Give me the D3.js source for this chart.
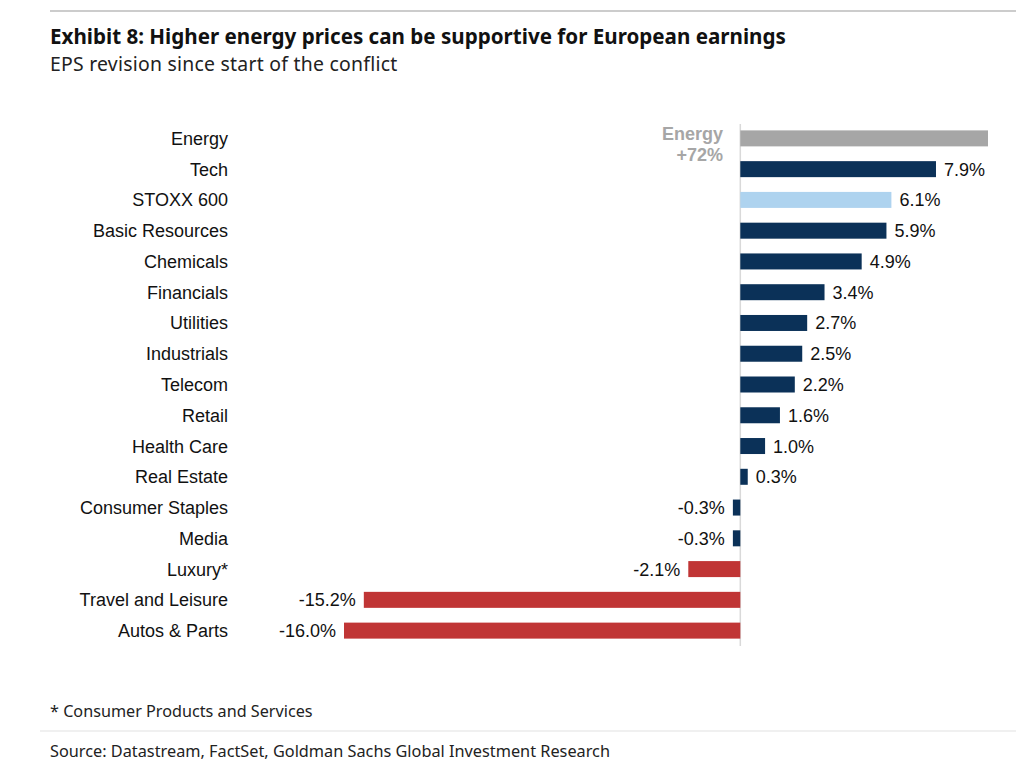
<!DOCTYPE html>
<html><head><meta charset="utf-8">
<script src="https://cdn.jsdelivr.net/npm/d3@7"></script>
<style>
body{margin:0;background:#fff;}
svg{display:block;}
</style></head>
<body>
<svg id="chart" width="1016" height="772"></svg>
<script>
const categories = ["Energy","Tech","STOXX 600","Basic Resources","Chemicals","Financials","Utilities","Industrials","Telecom","Retail","Health Care","Real Estate","Consumer Staples","Media","Luxury*","Travel and Leisure","Autos & Parts"];
const values = [72,7.9,6.1,5.9,4.9,3.4,2.7,2.5,2.2,1.6,1.0,0.3,-0.3,-0.3,-2.1,-15.2,-16.0];
const barColors = ["#a6a6a6","#0b3158","#aed3ef","#0b3158","#0b3158","#0b3158","#0b3158","#0b3158","#0b3158","#0b3158","#0b3158","#0b3158","#0b3158","#0b3158","#c03535","#c03535","#c03535"];
const xDomain = [-16, 10];
const energyNote = ["Energy","+72%"];
const title = "Exhibit 8: Higher energy prices can be supportive for European earnings";
const subtitle = "EPS revision since start of the conflict";
const footnote = "* Consumer Products and Services";
const source = "Source: Datastream, FactSet, Goldman Sachs Global Investment Research";

const svg = d3.select("#chart");
const sans = "'Liberation Sans', Arial, sans-serif";
const gs = "'Noto Sans', 'Open Sans', sans-serif";

svg.append("line").attr("x1",50).attr("x2",1016).attr("y1",11).attr("y2",11).attr("stroke","#9a9a9a").attr("stroke-width",1.2);
svg.append("text").attr("x",50).attr("y",44).text(title)
  .attr("font-family",gs).attr("font-weight","bold").attr("font-size",20.6).attr("fill","#111");
svg.append("text").attr("x",50).attr("y",70.5).text(subtitle)
  .attr("font-family",gs).attr("font-size",19.4).attr("letter-spacing",0.25).attr("fill","#222");

const x = d3.scaleLinear().domain(xDomain).range([344, 988]).clamp(true);
const y = d3.scaleBand().domain(categories).range([123, 646]).paddingInner(0.48).paddingOuter(0.24);

const data = categories.map((c,i)=>({c, v:values[i], col:barColors[i]}));

svg.append("line").attr("x1",x(0)).attr("x2",x(0)).attr("y1",124).attr("y2",646)
  .attr("stroke","#d9d9d9").attr("stroke-width",1.5);

svg.selectAll("rect.bar").data(data).join("rect").attr("class","bar")
  .attr("x",d=>x(Math.min(0,d.v))).attr("width",d=>Math.abs(x(d.v)-x(0)))
  .attr("y",d=>y(d.c)).attr("height",y.bandwidth()).attr("fill",d=>d.col);

svg.selectAll("text.cat").data(data).join("text").attr("class","cat")
  .attr("x",228).attr("y",d=>y(d.c)+y.bandwidth()/2).attr("dy","0.36em")
  .attr("text-anchor","end").attr("font-family",sans).attr("font-size",18).attr("fill","#111")
  .text(d=>d.c);

const fmt = v => d3.format(".1f")(v).replace("\u2212","-") + "%";
svg.selectAll("text.val").data(data.filter(d=>d.c!=="Energy")).join("text").attr("class","val")
  .attr("x",d=>d.v>=0 ? x(d.v)+8 : x(d.v)-8)
  .attr("y",d=>y(d.c)+y.bandwidth()/2).attr("dy","0.36em")
  .attr("text-anchor",d=>d.v>=0?"start":"end")
  .attr("font-family",sans).attr("font-size",18).attr("fill","#111")
  .text(d=>fmt(d.v));

const ey = y("Energy")+y.bandwidth()/2;
svg.selectAll("text.enote").data(energyNote).join("text").attr("class","enote")
  .attr("x",723).attr("y",(d,i)=>ey+i*21).attr("dy","0.1em")
  .attr("text-anchor","end").attr("font-family",sans).attr("font-weight","bold")
  .attr("font-size",18).attr("fill","#a6a6a6").text(d=>d);

svg.append("text").attr("x",50).attr("y",717).text(footnote)
  .attr("font-family",gs).attr("font-size",16.2).attr("fill","#222");
svg.append("line").attr("x1",40).attr("x2",1016).attr("y1",731).attr("y2",731).attr("stroke","#e2e2e2").attr("stroke-width",1.2);
svg.append("text").attr("x",50).attr("y",757).text(source)
  .attr("font-family",gs).attr("font-size",16.3).attr("fill","#222");
</script>
</body></html>
